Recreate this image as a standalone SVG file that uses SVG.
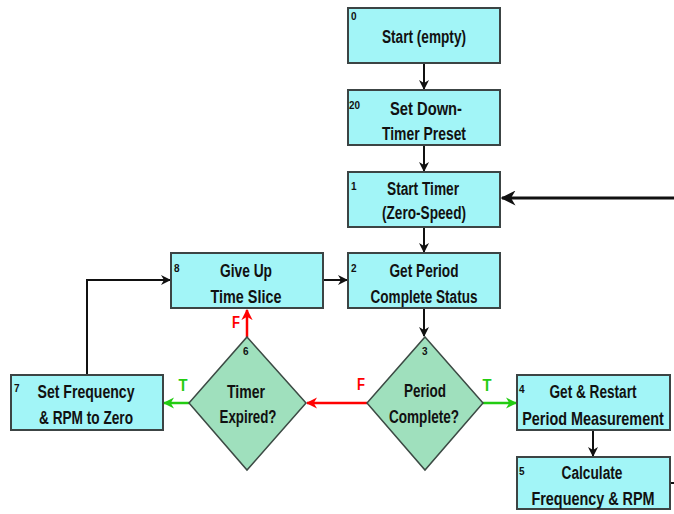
<svg xmlns="http://www.w3.org/2000/svg" width="674" height="514" viewBox="0 0 674 514">
<defs>
<style>
.box{fill:#a2f5f7;stroke:#3c4444;stroke-width:2}
.dia{fill:#9fe0bd;stroke:#3c4a44;stroke-width:1.5}
.t{font-family:"Liberation Sans",Arial,sans-serif;font-weight:bold;font-size:18px;fill:#111;text-anchor:middle}
.n{font-family:"Liberation Sans",Arial,sans-serif;font-weight:bold;font-size:10px;fill:#111}
.k{fill:none;stroke:#111;stroke-width:2}
.r{fill:none;stroke:#ff0000;stroke-width:2.5}
.g{fill:none;stroke:#22cc11;stroke-width:2.5}
.lr{font-family:"Liberation Sans",Arial,sans-serif;font-weight:bold;font-size:16px;fill:#ff0000;text-anchor:middle}
.lg{font-family:"Liberation Sans",Arial,sans-serif;font-weight:bold;font-size:17px;fill:#22cc11;text-anchor:middle}
</style>
<marker id="ak" viewBox="0 0 10 10" refX="9" refY="5" markerWidth="5" markerHeight="5" orient="auto" markerUnits="strokeWidth"><path d="M0,0 L10,5 L0,10 L3,5 z" fill="#111"/></marker>
<marker id="ar" viewBox="0 0 10 10" refX="9" refY="5" markerWidth="4.5" markerHeight="4.5" orient="auto" markerUnits="strokeWidth"><path d="M0,0 L10,5 L0,10 L3,5 z" fill="#ff0000"/></marker>
<marker id="ag" viewBox="0 0 10 10" refX="9" refY="5" markerWidth="4.5" markerHeight="4.5" orient="auto" markerUnits="strokeWidth"><path d="M0,0 L10,5 L0,10 L3,5 z" fill="#22cc11"/></marker>
</defs>
<rect width="674" height="514" fill="#fff"/>
<g id="connectors">
<path class="k" d="M424,63 V89" marker-end="url(#ak)"/>
<path class="k" d="M424,145 V171" marker-end="url(#ak)"/>
<path class="k" d="M424,227 V252" marker-end="url(#ak)"/>
<path class="k" d="M424,308 V336" marker-end="url(#ak)"/>
<path class="k" style="stroke-width:3" d="M674,198 H502" marker-end="url(#ak)"/>
<path class="k" d="M323,280 H347" marker-end="url(#ak)"/>
<path class="k" d="M87,375 V280 H170" marker-end="url(#ak)"/>
<path class="k" d="M593,430 V456" marker-end="url(#ak)"/>
<path class="k" d="M670,483 H674"/>
<path class="r" d="M367,403 H307" marker-end="url(#ar)"/>
<path class="r" d="M247,337 V310" marker-end="url(#ar)"/>
<path class="g" d="M483,403 H516" marker-end="url(#ag)"/>
<path class="g" d="M189,403 H164" marker-end="url(#ag)"/>
<text class="lr" x="361" y="390" textLength="8" lengthAdjust="spacingAndGlyphs">F</text>
<text class="lr" x="236" y="328" textLength="8" lengthAdjust="spacingAndGlyphs">F</text>
<text class="lg" x="487" y="391" textLength="9" lengthAdjust="spacingAndGlyphs">T</text>
<text class="lg" x="183" y="391" textLength="9" lengthAdjust="spacingAndGlyphs">T</text>
</g>
<g id="node0"><rect class="box" x="348" y="8" width="152" height="55"/><text class="n" x="351" y="20">0</text><text class="t" x="424" y="43" textLength="84" lengthAdjust="spacingAndGlyphs">Start (empty)</text></g>
<g id="node20"><rect class="box" x="348" y="90" width="152" height="55"/><text class="n" x="349" y="109" textLength="11" lengthAdjust="spacingAndGlyphs">20</text><text class="t" x="426" y="115" textLength="72" lengthAdjust="spacingAndGlyphs">Set Down-</text><text class="t" x="424" y="140" textLength="84" lengthAdjust="spacingAndGlyphs">Timer Preset</text></g>
<g id="node1"><rect class="box" x="348" y="172" width="152" height="55"/><text class="n" x="351" y="190">1</text><text class="t" x="423" y="195" textLength="72" lengthAdjust="spacingAndGlyphs">Start Timer</text><text class="t" x="424" y="219" textLength="84" lengthAdjust="spacingAndGlyphs">(Zero-Speed)</text></g>
<g id="node2"><rect class="box" x="348" y="253" width="152" height="55"/><text class="n" x="351" y="272">2</text><text class="t" x="424" y="277" textLength="69" lengthAdjust="spacingAndGlyphs">Get Period</text><text class="t" x="424" y="303" textLength="107" lengthAdjust="spacingAndGlyphs">Complete Status</text></g>
<g id="node8"><rect class="box" x="171" y="253" width="152" height="55"/><text class="n" x="174" y="272">8</text><text class="t" x="246" y="277" textLength="52" lengthAdjust="spacingAndGlyphs">Give Up</text><text class="t" x="246" y="303" textLength="71" lengthAdjust="spacingAndGlyphs">Time Slice</text></g>
<g id="node3"><polygon class="dia" points="425,337 483,403 425,470 367,403"/><text class="n" x="422" y="355">3</text><text class="t" x="425" y="397" textLength="42" lengthAdjust="spacingAndGlyphs">Period</text><text class="t" x="424" y="423" textLength="70" lengthAdjust="spacingAndGlyphs">Complete?</text></g>
<g id="node6"><polygon class="dia" points="247,337 306,403 247,470 189,403"/><text class="n" x="243" y="355">6</text><text class="t" x="246" y="398" textLength="38" lengthAdjust="spacingAndGlyphs">Timer</text><text class="t" x="248" y="423" textLength="57" lengthAdjust="spacingAndGlyphs">Expired?</text></g>
<g id="node7"><rect class="box" x="11" y="375" width="152" height="55"/><text class="n" x="14" y="392">7</text><text class="t" x="86" y="398" textLength="97" lengthAdjust="spacingAndGlyphs">Set Frequency</text><text class="t" x="86" y="424" textLength="94" lengthAdjust="spacingAndGlyphs">&amp; RPM to Zero</text></g>
<g id="node4"><rect class="box" x="517" y="375" width="153" height="55"/><text class="n" x="519" y="393">4</text><text class="t" x="593" y="398" textLength="87" lengthAdjust="spacingAndGlyphs">Get &amp; Restart</text><text class="t" transform="translate(593,425) scale(0.8,1)" x="0" y="0">Period Measurement</text></g>
<g id="node5"><rect class="box" x="517" y="457" width="153" height="52"/><text class="n" x="519" y="475">5</text><text class="t" x="592" y="479" textLength="61" lengthAdjust="spacingAndGlyphs">Calculate</text><text class="t" transform="translate(593,505) scale(0.8,1)" x="0" y="0">Frequency &amp; RPM</text></g>
</svg>
